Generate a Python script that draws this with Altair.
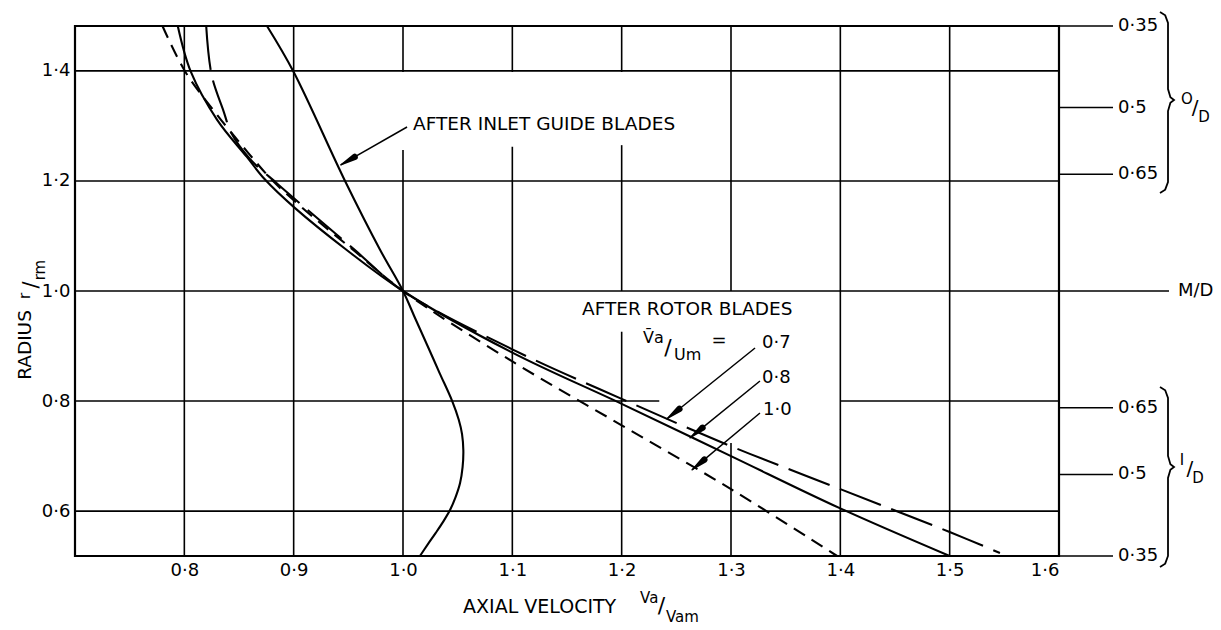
import altair as alt
import pandas as pd

# ---- axis ranges (radius ratio limits correspond to hub/tip = 0.35) ----
X0, X1 = 0.7, 1.6
Y0, Y1 = 0.5185, 1.4815
W, H = 984, 530
PPX = W / (X1 - X0)   # pixels per unit of axial velocity
PPY = H / (Y1 - Y0)   # pixels per unit of radius

# ---- curves: axial velocity (x) against radius (y) ----
igv_x = [0.8756, 0.900, 0.947, 0.979, 1.000, 1.0112, 1.0225, 1.0337, 1.0450, 1.0510, 1.0540, 1.0552,
         1.0545, 1.0522, 1.0480, 1.0430, 1.0365, 1.0298, 1.0228, 1.0155]
igv_y = [1.4815, 1.398, 1.200, 1.075, 1.000, 0.950, 0.900, 0.850, 0.800, 0.766, 0.740, 0.710,
         0.680, 0.651, 0.625, 0.602, 0.580, 0.560, 0.540, 0.5185]

rotor07_x = [0.820, 0.825, 0.836, 0.843, 0.860, 0.885, 0.910, 0.955, 1.000, 1.100, 1.200, 1.300, 1.400, 1.500, 1.546]
rotor07_y = [1.4815, 1.392, 1.326, 1.287, 1.240, 1.195, 1.152, 1.076, 1.000, 0.894, 0.804, 0.718, 0.640, 0.562, 0.524]

rotor08_x = [0.794, 0.806, 0.830, 0.857, 0.874, 0.901, 0.9485, 1.000, 1.100, 1.200, 1.300, 1.400, 1.500]
rotor08_y = [1.4815, 1.398, 1.311, 1.244, 1.202, 1.151, 1.0745, 1.000, 0.888, 0.795, 0.700, 0.605, 0.5185]

rotor10_x = [0.780, 0.801, 0.830, 0.858, 0.880, 0.9086, 0.9545, 1.000, 1.100, 1.200, 1.300, 1.397]
rotor10_y = [1.4815, 1.398, 1.320, 1.252, 1.202, 1.150, 1.0745, 1.000, 0.872, 0.756, 0.640, 0.5185]

# ---- grid lines (drawn by hand because several are interrupted) ----
vgrid_x = [0.8, 0.9, 1.0, 1.0, 1.1, 1.1, 1.2, 1.2, 1.2, 1.3, 1.3, 1.4, 1.5]
vgrid_y1 = [Y0, Y0, Y0, 1.398, Y0, 1.398, Y0, 1.000, 1.398, Y0, 1.000, Y0, Y0]
vgrid_y2 = [Y1, Y1, 1.256, Y1, 1.262, Y1, 0.926, 1.265, Y1, 0.724, Y1, Y1, Y1]

hgrid_y = [1.4, 1.2, 1.0, 0.8, 0.8, 0.6]
hgrid_x1 = [X0, X0, X0, X0, 1.4, X0]
hgrid_x2 = [X1, X1, X1, 1.2344, X1, X1]

# ---- right-hand scale: outer / inner diameter ratios ----
od_labels = ["0·35", "0·5", "0·65"]
od_radius = [1.4815, 1.3333, 1.2121]
id_labels = ["0·65", "0·5", "0·35"]
id_radius = [0.7879, 0.6667, 0.5185]
tick_end = 1.6494
md_end = 1.7006

# ---- arrows: tail -> tip ----
arrow_tail_x = [1.0037, 1.3220, 1.3265, 1.3265]
arrow_tail_y = [1.2980, 0.8965, 0.8365, 0.7784]
arrow_tip_x = [0.9430, 1.2413, 1.2625, 1.2643]
arrow_tip_y = [1.2290, 0.7675, 0.7330, 0.6749]

# ---- braces: x, top, tip, bottom ----
braces = [(1.6997, 1.5069, 1.3470, 1.1781), (1.6997, 0.8256, 0.6803, 0.4986)]

FONT = "DejaVu Sans"

texts = [
    ("AFTER INLET GUIDE BLADES", 1.0092, 1.2925, 18.5, 0, "left", "alphabetic"),
    ("AFTER ROTOR BLADES", 1.1637, 0.9564, 18.5, 0, "left", "alphabetic"),
    ("V\u0304a", 1.2195, 0.9056, 16, 0, "left", "alphabetic"),
    ("/", 1.2424, 0.8960, 22, 0, "center", "middle"),
    ("Um", 1.2479, 0.8747, 16, 0, "left", "alphabetic"),
    ("=", 1.2890, 0.9092, 18, 0, "center", "middle"),
    ("0·7", 1.3284, 0.8960, 18, 0, "left", "alphabetic"),
    ("0·8", 1.3284, 0.8323, 18, 0, "left", "alphabetic"),
    ("1·0", 1.3293, 0.7747, 18, 0, "left", "alphabetic"),
    ("AXIAL VELOCITY", 1.0549, 0.4150, 19, 0, "left", "alphabetic"),
    ("Va", 1.2168, 0.4332, 15, 0, "left", "alphabetic"),
    ("/", 1.2365, 0.4277, 22, 0, "center", "middle"),
    ("Vam", 1.2405, 0.3986, 15, 0, "left", "alphabetic"),
    ("RADIUS", 0.6543, 0.9019, 18.5, 270, "center", "middle"),
    ("r", 0.6543, 0.9910, 15, 270, "center", "middle"),
    ("/", 0.6607, 1.0110, 21, 270, "center", "middle"),
    ("rm", 0.6680, 1.0380, 15, 270, "center", "middle"),
    ("M/D", 1.7088, 1.0000, 18, 0, "left", "middle"),
    ("O", 1.7171, 1.3489, 15, 0, "center", "middle"),
    ("/", 1.7244, 1.3325, 20, 0, "center", "middle"),
    ("D", 1.7326, 1.3162, 15, 0, "center", "middle"),
    ("I", 1.7125, 0.6930, 15, 0, "center", "middle"),
    ("/", 1.7198, 0.6766, 20, 0, "center", "middle"),
    ("D", 1.7271, 0.6603, 15, 0, "center", "middle"),
]
for lab, r in zip(od_labels + id_labels, od_radius + id_radius):
    texts.append((lab, 1.654, r, 18, 0, "left", "middle"))

# ---- helpers ----
xscale = alt.Scale(domain=[X0, X1], nice=False, zero=False)
yscale = alt.Scale(domain=[Y0, Y1], nice=False, zero=False)
label_expr = "replace(format(datum.value, '.1f'), '.', '·')"
xaxis = alt.Axis(values=[0.8, 0.9, 1.0, 1.1, 1.2, 1.3, 1.4, 1.5, 1.6], labelExpr=label_expr,
                 ticks=False, domain=False, grid=False, title=None, labelPadding=5,
                 labelFontSize=18, labelFont=FONT, labelColor="black")
yaxis = alt.Axis(values=[0.6, 0.8, 1.0, 1.2, 1.4], labelExpr=label_expr,
                 ticks=False, domain=False, grid=False, title=None, labelPadding=5,
                 labelFontSize=18, labelFont=FONT, labelColor="black")


def X(field):
    return alt.X(field, type="quantitative", scale=xscale, axis=xaxis)


def Y(field):
    return alt.Y(field, type="quantitative", scale=yscale, axis=yaxis)


def path_df(xs, ys):
    return pd.DataFrame({"x": xs, "y": ys, "i": list(range(len(xs)))})


layers = []

# grid
vg = pd.DataFrame({"x": vgrid_x, "y1": vgrid_y1, "y2": vgrid_y2})
layers.append(alt.Chart(vg).mark_rule(color="black", strokeWidth=1.6)
              .encode(x=X("x"), y=Y("y1"), y2="y2"))
hx1 = hgrid_x1 + [X1] * 6 + [X1]
hx2 = hgrid_x2 + [tick_end] * 6 + [md_end]
hy = hgrid_y + od_radius + id_radius + [1.0]
hg = pd.DataFrame({"y": hy, "x1": hx1, "x2": hx2})
layers.append(alt.Chart(hg).mark_rule(color="black", strokeWidth=1.6, clip=False)
              .encode(y=Y("y"), x=X("x1"), x2="x2"))

# curves
curve_specs = [
    (igv_x, igv_y, None),
    (rotor08_x, rotor08_y, None),
    (rotor07_x, rotor07_y, [44, 11]),
    (rotor10_x, rotor10_y, [13, 8]),
]
for xs, ys, dash in curve_specs:
    kw = dict(color="black", strokeWidth=2.1, interpolate="catmull-rom")
    if dash:
        kw["strokeDash"] = dash
    layers.append(alt.Chart(path_df(xs, ys)).mark_line(**kw)
                  .encode(x=X("x"), y=Y("y"), order="i:Q"))

# arrows
ar = pd.DataFrame({"x": arrow_tail_x, "y": arrow_tail_y, "x2": arrow_tip_x, "y2": arrow_tip_y})
layers.append(alt.Chart(ar).mark_rule(color="black", strokeWidth=1.5)
              .encode(x=X("x"), y=Y("y"), x2="x2", y2="y2"))
heads = []
HEAD_LEN = 16.0
for k, (tx, ty, px, py) in enumerate(zip(arrow_tail_x, arrow_tail_y, arrow_tip_x, arrow_tip_y)):
    dx = (tx - px) * PPX
    dy = (ty - py) * PPY
    ln = (dx * dx + dy * dy) ** 0.5
    f = HEAD_LEN / ln
    heads.append({"id": k, "i": 0, "x": px, "y": py, "w": 1.0})
    heads.append({"id": k, "i": 1, "x": px + (tx - px) * f, "y": py + (ty - py) * f, "w": 6.5})
layers.append(alt.Chart(pd.DataFrame(heads)).mark_trail(color="black")
              .encode(x=X("x"), y=Y("y"), size=alt.Size("w:Q", scale=None, legend=None),
                      detail="id:N", order="i:Q"))

# braces
hook = 8.0 / PPX
tipdx = 6.0 / PPX
rr = 11.0 / PPY
for bi, (bx, top, tip, bot) in enumerate(braces):
    pts = [
        (bx - hook, top), (bx - hook * 0.35, top - rr * 0.3), (bx, top - rr),
        (bx, (top + tip) / 2), (bx, tip + rr), (bx + tipdx * 0.4, tip + rr * 0.25),
        (bx + tipdx, tip), (bx + tipdx * 0.4, tip - rr * 0.25), (bx, tip - rr),
        (bx, (tip + bot) / 2), (bx, bot + rr), (bx - hook * 0.35, bot + rr * 0.3),
        (bx - hook, bot),
    ]
    layers.append(alt.Chart(path_df([p[0] for p in pts], [p[1] for p in pts]))
                  .mark_line(color="black", strokeWidth=1.8, clip=False)
                  .encode(x=X("x"), y=Y("y"), order="i:Q"))

# text
for (t, tx, ty, size, ang, align, base) in texts:
    d = pd.DataFrame({"x": [tx], "y": [ty], "t": [t]})
    layers.append(alt.Chart(d).mark_text(font=FONT, fontSize=size, angle=ang, align=align,
                                         baseline=base, color="black", clip=False)
                  .encode(x=X("x"), y=Y("y"), text="t:N"))

chart = alt.layer(*layers).properties(
    width=W, height=H,
    autosize=alt.AutoSizeParams(type="none"),
    padding={"left": 75, "top": 26, "right": 162, "bottom": 74},
    background="white",
).configure_view(stroke="black", strokeWidth=2.2)

chart.save("out.html", embed_options={"renderer": "svg", "actions": False})
